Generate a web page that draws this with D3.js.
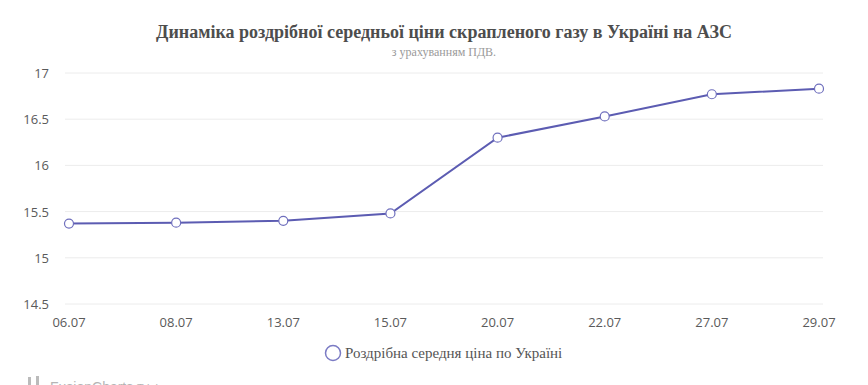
<!DOCTYPE html>
<html>
<head>
<meta charset="utf-8">
<script src="https://cdn.jsdelivr.net/npm/d3@7"></script>
<style>
  body { margin: 0; background: #fff; overflow: hidden; }
</style>
</head>
<body>
<div id="content"></div>
<script>
const dates = ["06.07", "08.07", "13.07", "15.07", "20.07", "22.07", "27.07", "29.07"]
const prices = [15.37, 15.38, 15.40, 15.48, 16.30, 16.53, 16.77, 16.83]
const yTicks = [14.5, 15, 15.5, 16, 16.5, 17]
const seriesName = "Роздрібна середня ціна по Україні"

const outerWidth = 868
const outerHeight = 385

const svg = d3.select("#content").append("svg")
    .attr("width", outerWidth)
    .attr("height", outerHeight)

// titles
svg.append("text")
    .attr("x", 444).attr("y", 38)
    .attr("text-anchor", "middle")
    .style("font-family", "'Liberation Serif', 'Times New Roman', serif")
    .style("font-weight", "bold")
    .style("font-size", "18px")
    .style("fill", "#4d4d4d")
    .text("Динаміка роздрібної середньої ціни скрапленого газу в Україні на АЗС")

svg.append("text")
    .attr("x", 444).attr("y", 56)
    .attr("text-anchor", "middle")
    .style("font-family", "'Liberation Serif', 'Times New Roman', serif")
    .style("font-size", "12px")
    .style("fill", "#9a9a9a")
    .text("з урахуванням ПДВ.")

// scales
const xScale = d3.scalePoint()
    .domain(dates)
    .range([69, 819])

const yScale = d3.scaleLinear()
    .domain([14.5, 17])
    .range([304, 73])

// grid
svg.append("g")
    .selectAll("line")
    .data(yTicks)
    .join("line")
    .attr("x1", 65).attr("x2", 823)
    .attr("y1", d => yScale(d)).attr("y2", d => yScale(d))
    .style("stroke", "#ececec")
    .style("stroke-width", 1)

// y axis labels
svg.append("g")
    .selectAll("text")
    .data(yTicks)
    .join("text")
    .attr("x", 49)
    .attr("y", d => yScale(d) + 5)
    .attr("text-anchor", "end")
    .style("font-family", "'Open Sans', 'Liberation Sans', sans-serif")
    .style("font-size", "13px")
    .style("fill", "#5a5a5a")
    .text(d => d)

// x axis labels
svg.append("g")
    .selectAll("text")
    .data(dates)
    .join("text")
    .attr("x", d => xScale(d))
    .attr("y", 327)
    .attr("text-anchor", "middle")
    .style("font-family", "'Open Sans', 'Liberation Sans', sans-serif")
    .style("font-size", "13px")
    .style("fill", "#5a5a5a")
    .text(d => d)

// line
const line = d3.line()
    .x((d, i) => xScale(dates[i]))
    .y(d => yScale(d))

svg.append("path")
    .datum(prices)
    .attr("d", line)
    .style("fill", "none")
    .style("stroke", "#5c5cb2")
    .style("stroke-width", 2)

svg.append("g")
    .selectAll("circle")
    .data(prices)
    .join("circle")
    .attr("cx", (d, i) => xScale(dates[i]))
    .attr("cy", d => yScale(d))
    .attr("r", 4.5)
    .style("fill", "#fff")
    .style("stroke", "#6f6fbd")
    .style("stroke-width", 1.2)

// legend
const legend = svg.append("g").attr("transform", "translate(333, 353)")
legend.append("circle")
    .attr("r", 7.5)
    .style("fill", "#fff")
    .style("stroke", "#7b7bc4")
    .style("stroke-width", 1.5)
legend.append("text")
    .attr("x", 12).attr("y", 5)
    .style("font-family", "'Liberation Serif', 'Times New Roman', serif")
    .style("font-size", "15px")
    .style("fill", "#555")
    .text(seriesName)

// watermark (cut off at the bottom edge, as in the original)
const wm = svg.append("g").attr("transform", "translate(28, 377)")
wm.append("rect").attr("x", 0).attr("y", 0).attr("width", 3).attr("height", 10).style("fill", "#bbb")
wm.append("rect").attr("x", 8).attr("y", -1).attr("width", 3).attr("height", 11).style("fill", "#bbb")
wm.append("text")
    .attr("x", 22).attr("y", 15)
    .style("font-family", "'Liberation Sans', sans-serif")
    .style("font-size", "14px")
    .style("fill", "#b5b5b5")
    .text("FusionCharts")
wm.append("text")
    .attr("x", 109).attr("y", 15)
    .style("font-family", "'Liberation Sans', sans-serif")
    .style("font-size", "11px")
    .style("fill", "#b5b5b5")
    .text("Trial")
</script>
</body>
</html>
